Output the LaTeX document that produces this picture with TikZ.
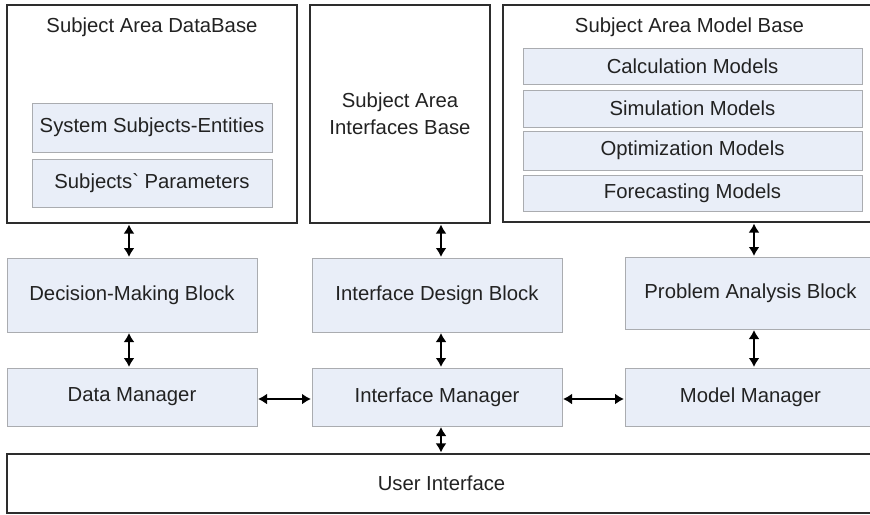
\documentclass[tikz,border=0pt]{standalone}
\usepackage{fontspec}
\newfontfamily\arialfont{Liberation Sans}
\usetikzlibrary{arrows.meta}
\definecolor{blockfill}{RGB}{233,238,248}
\definecolor{blockline}{RGB}{170,172,176}
\definecolor{frameline}{RGB}{45,45,45}
\definecolor{txt}{RGB}{34,34,34}
\begin{document}
\begin{tikzpicture}[x=1pt,y=-1pt,
  every node/.style={font=\arialfont\fontsize{20.3}{27}\selectfont, text=txt, inner sep=0pt},
  frame/.style={draw=frameline, line width=2.2pt, fill=white},
  block/.style={draw=blockline, line width=1pt, fill=blockfill},
  arr/.style={draw=black, line width=2.2pt, {Latex[length=9pt,width=11pt]}-{Latex[length=9pt,width=11pt]}, shorten <=0.5pt, shorten >=0.5pt}]
\useasboundingbox (0,0) rectangle (870,514);

% top row: knowledge bases
\node[frame, minimum width=290, minimum height=218] (db) at (152,114) {};
\node[anchor=base] (dbtitle) at (152,32) {Subject Area DataBase};
\node[block, minimum width=240, minimum height=49] (sse) at (152,127.5) {System Subjects-Entities};
\node[block, minimum width=240, minimum height=48] (sp) at (152,183) {Subjects` Parameters};

\node[frame, minimum width=180, minimum height=218, align=center] (ifb) at (400,114) {Subject Area\\Interfaces Base};

\node[frame, minimum width=374, minimum height=217] (mb) at (690,113.5) {};
\node[anchor=base] (mbtitle) at (689.5,32) {Subject Area Model Base};
\node[block, minimum width=339, minimum height=36] (calc) at (692.5,66) {Calculation Models};
\node[block, minimum width=339, minimum height=37] (sim) at (692.5,108.5) {Simulation Models};
\node[block, minimum width=339, minimum height=39] (opt) at (692.5,150.5) {Optimization Models};
\node[block, minimum width=339, minimum height=36] (fore) at (692.5,193) {Forecasting Models};

% middle row: processing blocks
\node[block, minimum width=250, minimum height=74] (dmb) at (132,295) {Decision-Making Block};
\node[block, minimum width=250, minimum height=74] (idb) at (437,295) {Interface Design Block};
\node[block, minimum width=251, minimum height=72] (pab) at (750.5,293) {Problem Analysis Block};

% managers
\node[block, minimum width=250, minimum height=58] (dm) at (132,397) {Data Manager};
\node[block, minimum width=250, minimum height=58] (im) at (437,397) {Interface Manager};
\node[block, minimum width=251, minimum height=58] (mm) at (750.5,397) {Model Manager};

% user interface
\node[frame, minimum width=869, minimum height=59] (ui) at (441.5,483.5) {User Interface};

% connectors
\draw[arr] (db.south -| 129,0) -- (dmb.north -| 129,0);
\draw[arr] (dmb.south -| 129,0) -- (dm.north -| 129,0);
\draw[arr] (ifb.south -| 441,0) -- (idb.north -| 441,0);
\draw[arr] (idb.south -| 441,0) -- (im.north -| 441,0);
\draw[arr] (im.south -| 441,0) -- (ui.north -| 441,0);
\draw[arr] (mb.south -| 754,0) -- (pab.north -| 754,0);
\draw[arr] (pab.south -| 754,0) -- (mm.north -| 754,0);
\draw[arr] ([yshift=-2pt]dm.east) -- ([yshift=-2pt]im.west);
\draw[arr] ([yshift=-2pt]im.east) -- ([yshift=-2pt]mm.west);
\end{tikzpicture}
\end{document}
